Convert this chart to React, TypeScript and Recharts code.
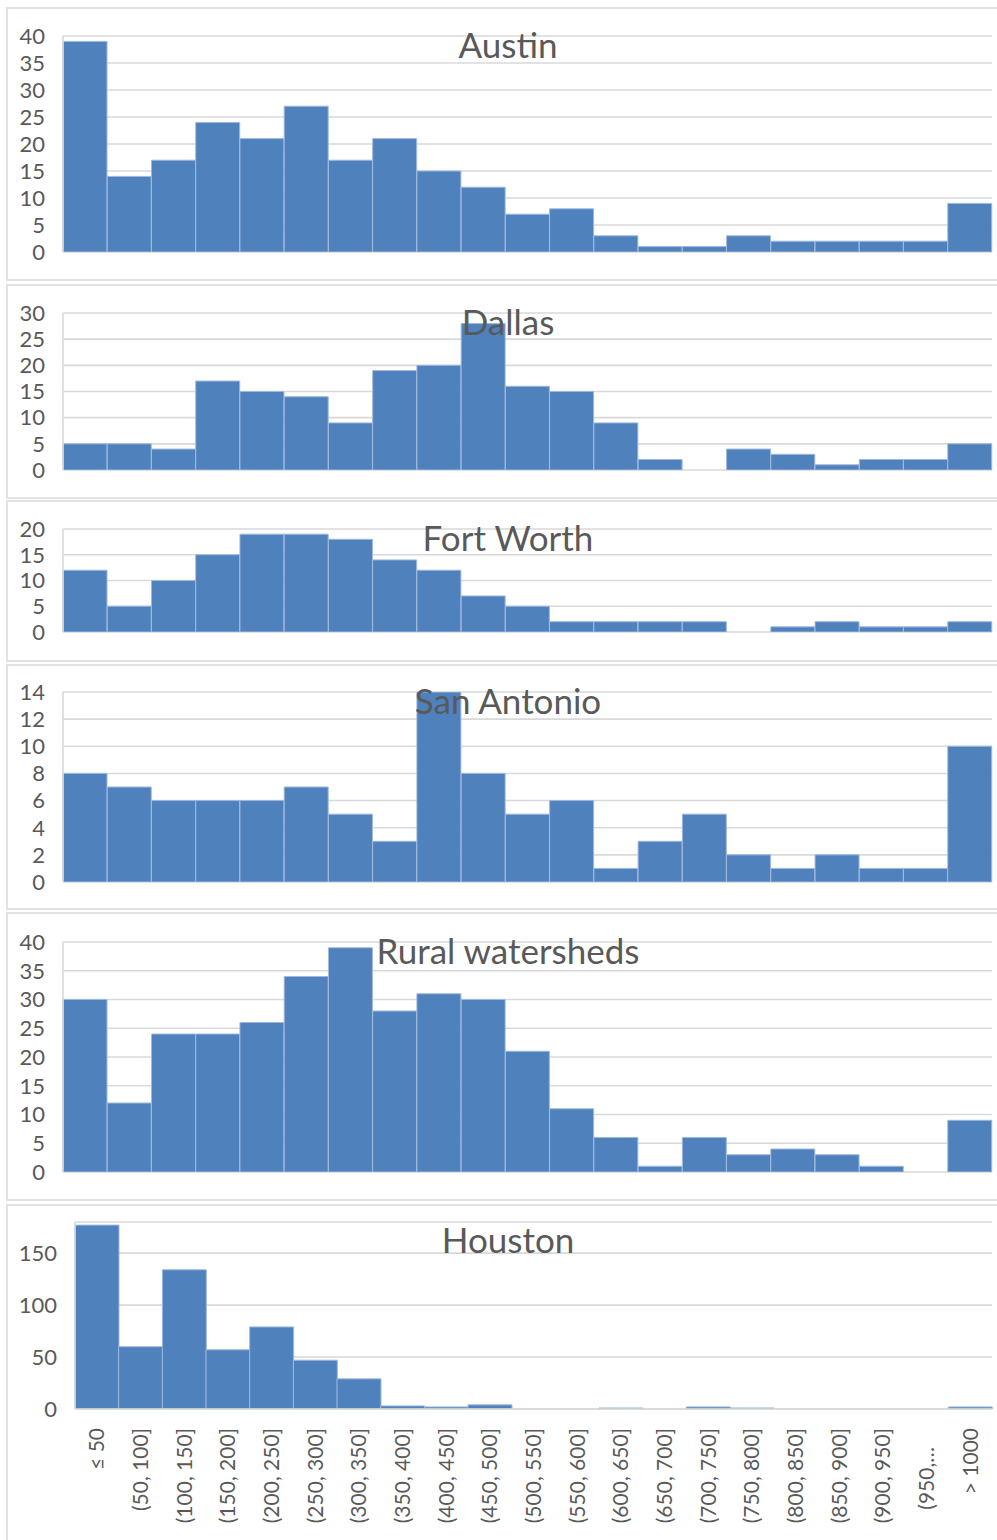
import React from 'react';
import { BarChart, Bar, XAxis, YAxis, CartesianGrid } from 'recharts';

const categories = [
  '≤ 50', '(50, 100]', '(100, 150]', '(150, 200]', '(200, 250]', '(250, 300]',
  '(300, 350]', '(350, 400]', '(400, 450]', '(450, 500]', '(500, 550]', '(550, 600]',
  '(600, 650]', '(650, 700]', '(700, 750]', '(750, 800]', '(800, 850]', '(850, 900]',
  '(900, 950]', '(950,…', '> 1000',
];

const austin = [39, 14, 17, 24, 21, 27, 17, 21, 15, 12, 7, 8, 3, 1, 1, 3, 2, 2, 2, 2, 9];
const dallas = [5, 5, 4, 17, 15, 14, 9, 19, 20, 28, 16, 15, 9, 2, 0, 4, 3, 1, 2, 2, 5];
const fortWorth = [12, 5, 10, 15, 19, 19, 18, 14, 12, 7, 5, 2, 2, 2, 2, 0, 1, 2, 1, 1, 2];
const sanAntonio = [8, 7, 6, 6, 6, 7, 5, 3, 14, 8, 5, 6, 1, 3, 5, 2, 1, 2, 1, 1, 10];
const rural = [30, 12, 24, 24, 26, 34, 39, 28, 31, 30, 21, 11, 6, 1, 6, 3, 4, 3, 1, 0, 9];
const houston = [177, 60, 134, 57, 79, 47, 29, 3, 2, 4, 0, 0, 1, 0, 2, 1, 0, 0, 0, 0, 2];

const titles = ['Austin', 'Dallas', 'Fort Worth', 'San Antonio', 'Rural watersheds', 'Houston'];

const ticks40 = [0, 5, 10, 15, 20, 25, 30, 35, 40];
const ticks30 = [0, 5, 10, 15, 20, 25, 30];
const ticks20 = [0, 5, 10, 15, 20];
const ticks14 = [0, 2, 4, 6, 8, 10, 12, 14];
const ticksHouston = [0, 50, 100, 150];

const domains = [40, 30, 20, 14, 40, 180];

const seriesList = [austin, dallas, fortWorth, sanAntonio, rural, houston];
const tickList = [ticks40, ticks30, ticks20, ticks14, ticks40, ticksHouston];

// layout (page coordinates)
const panels = [
  { top: 7, bottom: 281, plotTop: 36, plotBottom: 252, plotLeft: 63 },
  { top: 284, bottom: 499, plotTop: 313, plotBottom: 470, plotLeft: 63 },
  { top: 500, bottom: 662, plotTop: 529, plotBottom: 632, plotLeft: 63 },
  { top: 664, bottom: 910, plotTop: 692, plotBottom: 882, plotLeft: 63 },
  { top: 912, bottom: 1201, plotTop: 942, plotBottom: 1172, plotLeft: 63 },
  { top: 1204, bottom: 1560, plotTop: 1222, plotBottom: 1409, plotLeft: 75 },
];

const PAGE_W = 997;
const PLOT_RIGHT = 992;
const FONT = 'Lato, "Open Sans", sans-serif';
const TEXT = '#595959';
const GRID = '#d9d9d9';
const BAR = '#4f81bd';

const XTick = (props: any) => {
  const { x, y, payload } = props;
  const extra = payload.value === '(950,…' ? 19 : 0;
  return (
    <text
      transform={`translate(${x},${y + extra}) rotate(-90)`}
      textAnchor="end"
      dy="0.35em"
      fill={TEXT}
      fontSize={21}
      fontFamily={FONT}
    >
      {payload.value}
    </text>
  );
};

function Panel({ index }: { index: number }) {
  const p = panels[index];
  const isLast = index === panels.length - 1;
  const data = categories.map((c, i) => ({ cat: c, v: seriesList[index][i] }));
  const chartTop = p.top;
  const chartH = isLast ? 1540 - chartTop : p.bottom - chartTop;
  const xAxisH = isLast ? 1540 - p.plotBottom : 0;
  const marginTop = p.plotTop - chartTop;
  const marginBottom = isLast ? 0 : chartH - (p.plotBottom - chartTop);
  const titleCenter = 508;
  const titleBaseline = isLast ? p.plotTop + 31 : p.plotTop + 22;
  return (
    <>
      <div
        style={{
          position: 'absolute',
          left: 6,
          top: p.top,
          width: 1000,
          height: p.bottom - p.top,
          border: '2px solid #e2e2e2',
          boxSizing: 'border-box',
          background: '#fff',
        }}
      />
      <div style={{ position: 'absolute', left: 0, top: chartTop }}>
        <BarChart
          width={PAGE_W}
          height={chartH}
          data={data}
          margin={{ top: marginTop, right: PAGE_W - PLOT_RIGHT, bottom: marginBottom, left: 0 }}
          barCategoryGap={0}
          barGap={0}
        >
          <CartesianGrid vertical={false} stroke={GRID} strokeWidth={1.6} />
          <XAxis
            dataKey="cat"
            hide={!isLast}
            height={xAxisH}
            interval={0}
            tickLine={false}
            tickSize={0}
            tickMargin={19}
            axisLine={{ stroke: GRID, strokeWidth: 1.6 }}
            tick={<XTick />}
          />
          <YAxis
            width={p.plotLeft}
            domain={[0, domains[index]]}
            ticks={tickList[index]}
            interval={0}
            tickLine={false}
            tickSize={0}
            tickMargin={18}
            axisLine={{ stroke: GRID, strokeWidth: 1.6 }}
            tick={{ fill: TEXT, fontSize: 22, fontFamily: FONT }}
            allowDataOverflow
          />
          <Bar dataKey="v" fill={BAR} stroke="#9fb9de" strokeWidth={1} isAnimationActive={false} />
        </BarChart>
      </div>
      <svg
        style={{ position: 'absolute', left: 0, top: p.top, pointerEvents: 'none' }}
        width={PAGE_W}
        height={60 + (titleBaseline - p.top)}
      >
        <text
          x={titleCenter}
          y={titleBaseline - p.top}
          textAnchor="middle"
          fill={TEXT}
          fontSize={35}
          fontFamily={FONT}
        >
          {titles[index]}
        </text>
      </svg>
    </>
  );
}

export default function App() {
  return (
    <div
      style={{
        position: 'absolute',
        left: 0,
        top: 0,
        width: PAGE_W,
        height: 1540,
        overflow: 'hidden',
        background: '#fff',
        fontFamily: FONT,
      }}
    >
      {panels.map((_, i) => (
        <Panel key={i} index={i} />
      ))}
    </div>
  );
}
